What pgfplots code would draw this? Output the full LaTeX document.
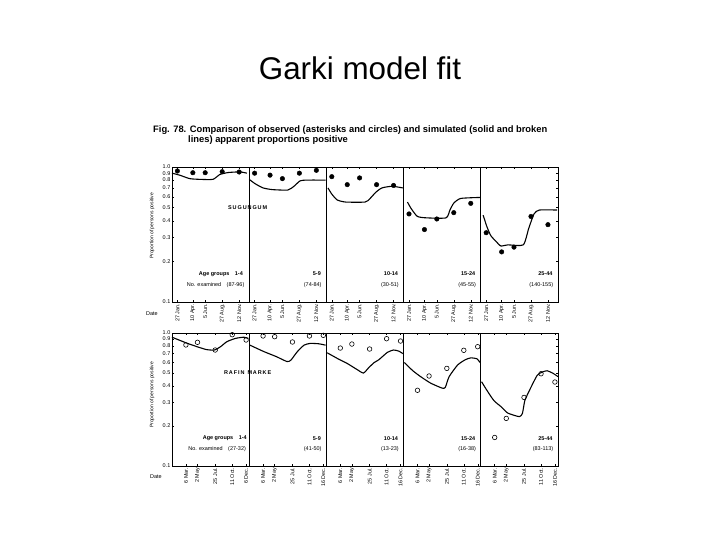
\documentclass[border=0pt]{standalone}
\usepackage{pgfplots}
\pgfplotsset{compat=1.18}
\usepackage{fontspec}
\setmainfont{Liberation Sans}

\tikzset{
  simline/.style={black, line width=1.1pt, smooth, tension=0.35},
  grp/.style={font=\fontsize{5.5}{6}\selectfont, anchor=east, inner sep=0pt},
}

\begin{document}
\begin{tikzpicture}
\path[use as bounding box] (0bp,0bp) rectangle (720bp,540bp);

% title
\node[font=\fontsize{31.5}{34}\selectfont, anchor=base, inner sep=0pt] at (360bp,460bp) {Garki model fit};

% caption
\node[anchor=base west, font=\bfseries\fontsize{9.4}{10}\selectfont, inner sep=0pt] at (153bp,407bp)
  {Fig. 78. Comparison of observed (asterisks and circles) and simulated (solid and broken};
\node[anchor=base west, font=\bfseries\fontsize{9.4}{10}\selectfont, inner sep=0pt] at (188bp,397bp)
  {lines) apparent proportions positive};

% ---------------- TOP PANEL (Sugungum) ----------------
\begin{axis}[
  ymode=log,
  scale only axis, anchor=south west, at={(172bp,238bp)},
  width=386bp, height=135bp,
  xmin=0, xmax=5, ymin=0.1, ymax=1.0,
  ytick={0.1,0.2,0.3,0.4,0.5,0.6,0.7,0.8,0.9,1.0},
  yticklabels={0.1,0.2,0.3,0.4,0.5,0.6,0.7,0.8,0.9,1.0},
  yminorticks=false, xminorticks=false,
  axis line style={black, line width=0.8pt},
  tick style={black, line width=0.4pt},
  major tick length=1.8pt,
  yticklabel style={font=\fontsize{5.5}{6}\selectfont, inner sep=1.5pt},
  xticklabel style={font=\fontsize{5.4}{6}\selectfont, rotate=90, anchor=east, inner sep=2pt},
  clip=false,
  xtick={0.07,0.27,0.43,0.65,0.87,1.07,1.27,1.43,1.65,1.87,2.07,2.27,2.43,2.65,2.87,3.07,3.27,3.43,3.65,3.87,4.07,4.27,4.43,4.65,4.87},
  xticklabels={27 Jan.,10 Apr.,5 Jun.,27 Aug.,12 Nov.,27 Jan.,10 Apr.,5 Jun.,27 Aug.,12 Nov.,27 Jan.,10 Apr.,5 Jun.,27 Aug.,12 Nov.,27 Jan.,10 Apr.,5 Jun.,27 Aug.,12 Nov.,27 Jan.,10 Apr.,5 Jun.,27 Aug.,12 Nov.},
]
% separators
\draw[black, line width=0.9pt] (axis cs:1,0.1) -- (axis cs:1,1);
\draw[black, line width=0.9pt] (axis cs:2,0.1) -- (axis cs:2,1);
\draw[black, line width=0.6pt] (axis cs:3,0.1) -- (axis cs:3,1);
\draw[black, line width=0.9pt] (axis cs:4,0.1) -- (axis cs:4,1);

% simulated
\addplot[simline, no marks] coordinates {(0.0,0.90) (0.1,0.87) (0.23,0.82) (0.36,0.81) (0.53,0.81) (0.62,0.88) (0.73,0.91) (0.88,0.92) (0.97,0.90)};
\addplot[simline, no marks] coordinates {(1.0,0.81) (1.08,0.75) (1.18,0.70) (1.3,0.68) (1.5,0.675) (1.58,0.72) (1.66,0.79) (1.75,0.80) (1.99,0.80)};
\addplot[simline, no marks] coordinates {(2.02,0.70) (2.07,0.63) (2.14,0.57) (2.25,0.55) (2.5,0.55) (2.56,0.58) (2.64,0.65) (2.72,0.70) (2.85,0.72) (2.99,0.70)};
\addplot[simline, no marks] coordinates {(3.05,0.55) (3.10,0.49) (3.18,0.43) (3.3,0.42) (3.55,0.42) (3.6,0.48) (3.65,0.54) (3.74,0.585) (3.99,0.595)};
\addplot[simline, no marks] coordinates {(4.03,0.44) (4.08,0.36) (4.13,0.31) (4.2,0.28) (4.26,0.26) (4.35,0.265) (4.55,0.265) (4.62,0.35) (4.69,0.45) (4.76,0.48) (4.99,0.48)};

% observed
\addplot[only marks, mark=*, mark size=2.3pt, black] coordinates {
 (0.07,0.934) (0.27,0.907) (0.43,0.907) (0.65,0.923) (0.87,0.918)
 (1.07,0.90) (1.27,0.87) (1.43,0.82) (1.65,0.90) (1.87,0.945)
 (2.07,0.848) (2.27,0.74) (2.43,0.83) (2.65,0.74) (2.87,0.73)
 (3.07,0.449) (3.27,0.344) (3.43,0.412) (3.65,0.459) (3.87,0.538)
 (4.07,0.326) (4.27,0.235) (4.43,0.255) (4.65,0.43) (4.87,0.374)};

\node[font=\bfseries\fontsize{5.5}{6}\selectfont] at (axis cs:0.98,0.50) {S\,U\,G\,U\,N\,G\,U\,M};

\node[grp] at (axis cs:0.92,0.161) {\textbf{Age groups}\quad\textbf{1-4}};
\node[grp] at (axis cs:0.94,0.134) {No. examined\quad(87-96)};
\node[grp] at (axis cs:1.93,0.161) {\textbf{5-9}};
\node[grp] at (axis cs:1.94,0.134) {(74-84)};
\node[grp] at (axis cs:2.93,0.161) {\textbf{10-14}};
\node[grp] at (axis cs:2.94,0.134) {(30-51)};
\node[grp] at (axis cs:3.93,0.161) {\textbf{15-24}};
\node[grp] at (axis cs:3.94,0.134) {(45-55)};
\node[grp] at (axis cs:4.93,0.161) {\textbf{25-44}};
\node[grp] at (axis cs:4.94,0.134) {(140-155)};
\end{axis}

\node[rotate=90, font=\fontsize{5}{6}\selectfont] at (152bp,314bp) {Proportion of persons positive};
\node[font=\fontsize{5.5}{6}\selectfont, anchor=west, inner sep=0pt] at (146bp,226bp) {Date};

% ---------------- BOTTOM PANEL (Rafin Marke) ----------------
\begin{axis}[
  ymode=log,
  scale only axis, anchor=south west, at={(172bp,74bp)},
  width=386bp, height=133bp,
  xmin=0, xmax=5, ymin=0.1, ymax=1.0,
  ytick={0.1,0.2,0.3,0.4,0.5,0.6,0.7,0.8,0.9,1.0},
  yticklabels={0.1,0.2,0.3,0.4,0.5,0.6,0.7,0.8,0.9,1.0},
  yminorticks=false, xminorticks=false,
  axis line style={black, line width=0.8pt},
  tick style={black, line width=0.4pt},
  major tick length=1.8pt,
  yticklabel style={font=\fontsize{5.5}{6}\selectfont, inner sep=1.5pt},
  xticklabel style={font=\fontsize{5.4}{6}\selectfont, rotate=90, anchor=east, inner sep=2pt},
  clip=false,
  xtick={0.18,0.33,0.56,0.78,0.96,1.18,1.33,1.56,1.78,1.96,2.18,2.33,2.56,2.78,2.96,3.18,3.33,3.56,3.78,3.96,4.18,4.33,4.56,4.78,4.96},
  xticklabels={6 Mar.,2 May,25 Jul.,11 Oct.,6 Dec.,6 Mar.,2 May,25 Jul.,11 Oct.,16 Dec.,6 Mar.,2 May,25 Jul.,11 Oct.,16 Dec.,6 Mar.,2 May,25 Jul.,11 Oct.,16 Dec.,6 Mar.,2 May,25 Jul.,11 Oct.,16 Dec.},
]
\draw[black, line width=0.9pt] (axis cs:1,0.1) -- (axis cs:1,0.5);
\draw[black, line width=0.4pt] (axis cs:1,0.5) -- (axis cs:1,1);
\draw[black, line width=0.6pt] (axis cs:2,0.1) -- (axis cs:2,1);
\draw[black, line width=0.6pt] (axis cs:3,0.1) -- (axis cs:3,1);
\draw[black, line width=0.9pt] (axis cs:4,0.1) -- (axis cs:4,1);

\addplot[simline, no marks] coordinates {(0.0,0.93) (0.19,0.84) (0.35,0.78) (0.45,0.75) (0.55,0.745) (0.63,0.79) (0.71,0.86) (0.82,0.91) (0.93,0.93) (0.99,0.91)};
\addplot[simline, no marks] coordinates {(1.01,0.81) (1.19,0.725) (1.35,0.665) (1.49,0.61) (1.54,0.625) (1.62,0.72) (1.71,0.81) (1.79,0.835) (1.9,0.83) (1.99,0.81)};
\addplot[simline, no marks] coordinates {(2.01,0.71) (2.15,0.64) (2.27,0.59) (2.40,0.53) (2.48,0.50) (2.55,0.55) (2.62,0.60) (2.68,0.63) (2.79,0.715) (2.87,0.745) (2.94,0.73) (2.99,0.70)};
\addplot[simline, no marks] coordinates {(3.01,0.60) (3.12,0.52) (3.22,0.47) (3.35,0.42) (3.5,0.385) (3.54,0.39) (3.59,0.47) (3.70,0.575) (3.80,0.63) (3.87,0.65) (3.95,0.64) (3.99,0.60)};
\addplot[simline, no marks] coordinates {(4.01,0.43) (4.08,0.37) (4.17,0.31) (4.26,0.28) (4.35,0.25) (4.50,0.235) (4.54,0.25) (4.57,0.31) (4.63,0.37) (4.73,0.48) (4.80,0.51) (4.86,0.52) (4.93,0.50) (5.0,0.47)};

\addplot[only marks, mark=o, mark size=2.3pt, black, line width=0.6pt] coordinates {
 (0.18,0.813) (0.33,0.851) (0.56,0.745) (0.78,0.971) (0.96,0.886)
 (1.18,0.95) (1.33,0.938) (1.56,0.856) (1.78,0.95) (1.96,0.96)
 (2.18,0.771) (2.33,0.826) (2.56,0.758) (2.78,0.906) (2.96,0.870)
 (3.18,0.371) (3.33,0.475) (3.56,0.542) (3.78,0.741) (3.96,0.789)
 (4.18,0.164) (4.33,0.228) (4.56,0.328) (4.78,0.494) (4.96,0.428)};

\node[font=\bfseries\fontsize{5.5}{6}\selectfont] at (axis cs:0.98,0.50) {R\,A\,F\,I\,N\ \ M\,A\,R\,K\,E};

\node[grp] at (axis cs:0.97,0.162) {\textbf{Age groups}\quad\textbf{1-4}};
\node[grp] at (axis cs:0.96,0.133) {No. examined\quad(27-32)};
\node[grp] at (axis cs:1.93,0.162) {\textbf{5-9}};
\node[grp] at (axis cs:1.94,0.133) {(41-50)};
\node[grp] at (axis cs:2.93,0.162) {\textbf{10-14}};
\node[grp] at (axis cs:2.94,0.133) {(13-23)};
\node[grp] at (axis cs:3.93,0.162) {\textbf{15-24}};
\node[grp] at (axis cs:3.94,0.133) {(16-38)};
\node[grp] at (axis cs:4.93,0.162) {\textbf{25-44}};
\node[grp] at (axis cs:4.94,0.133) {(83-113)};
\end{axis}

\node[rotate=90, font=\fontsize{5}{6}\selectfont] at (152bp,145bp) {Proportion of persons positive};
\node[font=\fontsize{5.5}{6}\selectfont, anchor=west, inner sep=0pt] at (150bp,63bp) {Date};

\end{tikzpicture}
\end{document}
